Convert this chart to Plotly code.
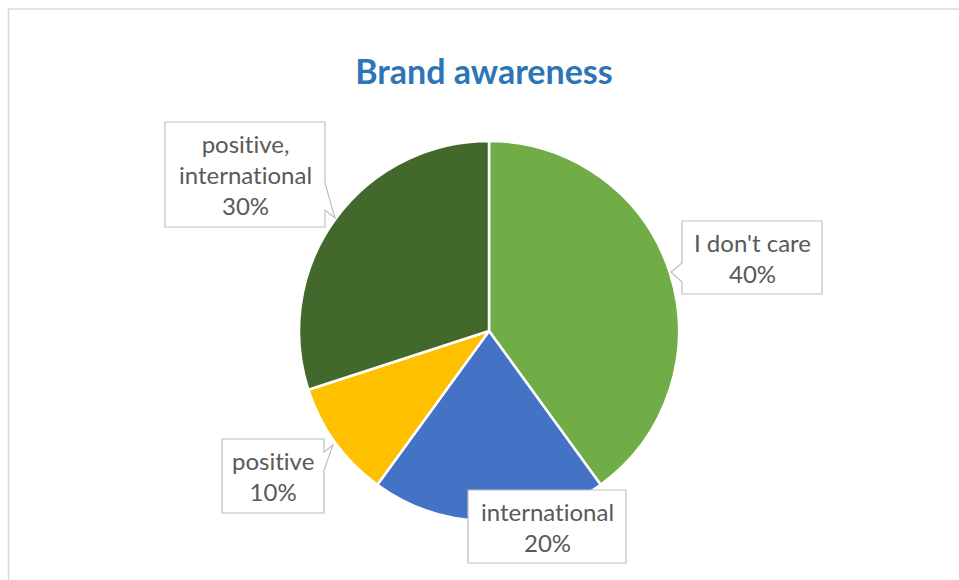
import plotly.graph_objects as go

# Survey answers and their shares
categories = ["I don't care", "international", "positive", "positive, international"]
shares = [40, 20, 10, 30]
slice_colors = ["#70AD47", "#4472C4", "#FFC000", "#43682B"]

W, H = 959, 580
CX, CY, R = 489, 331, 190


def px(x):
    return x / W


def py(y):
    return 1 - y / H


fig = go.Figure(
    go.Pie(
        labels=categories,
        values=shares,
        sort=False,
        direction="clockwise",
        rotation=0,
        textinfo="none",
        hoverinfo="label+percent",
        marker=dict(colors=slice_colors, line=dict(color="white", width=2.5)),
        domain=dict(x=[px(CX - R), px(CX + R)], y=[py(CY + R), py(CY - R)]),
        showlegend=False,
    )
)

# Callout boxes (pixel rectangles) with optional pointer polygon on one side
callouts = {
    "I don't care": dict(box=(682, 221, 822, 294), ptr=[(682, 263), (671, 272), (682, 282)], side="left"),
    "international": dict(box=(468, 490, 626, 563), ptr=None, side=None),
    "positive": dict(box=(222, 439, 324, 513), ptr=[(324, 452), (333, 445), (324, 470)], side="right"),
    "positive, international": dict(box=(165, 122, 325, 227), ptr=[(325, 183), (335, 218), (325, 210)], side="right"),
}


def box_path(box, ptr, side):
    x0, y0, x1, y1 = box
    pts = [(x0, y0), (x1, y0)]
    if side == "right":
        pts += ptr
    pts += [(x1, y1), (x0, y1)]
    if side == "left":
        pts += ptr[::-1]
    return "M " + " L ".join(f"{px(x):.5f},{py(y):.5f}" for x, y in pts) + " Z"


def no_ligatures(s):
    # keep "ti" as two separate glyphs
    return s.replace("ti", "t\u200ci")


total = sum(shares)
shapes = [
    # chart frame
    dict(type="rect", xref="paper", yref="paper", x0=px(8.5), y0=-0.05, x1=1.05, y1=py(9),
         line=dict(color="#D9D9D9", width=1.5), fillcolor="rgba(0,0,0,0)", layer="below"),
]
annotations = []
for name, value in zip(categories, shares):
    c = callouts[name]
    shapes.append(dict(type="path", xref="paper", yref="paper",
                       path=box_path(c["box"], c["ptr"], c["side"]),
                       fillcolor="white", line=dict(color="#BFBFBF", width=1.2), layer="above"))
    x0, y0, x1, y1 = c["box"]
    text = no_ligatures(name).replace(", ", ",<br>") + f"<br>{value / total * 100:.0f}%"
    annotations.append(dict(x=px((x0 + x1) / 2), y=py((y0 + y1) / 2), xref="paper", yref="paper",
                            text=text, showarrow=False, xanchor="center", yanchor="middle",
                            font=dict(family="Lato, Calibri, sans-serif", size=24, color="#595959")))

fig.update_layout(
    width=W,
    height=H,
    margin=dict(l=0, r=0, t=0, b=0),
    paper_bgcolor="white",
    plot_bgcolor="white",
    title=dict(text="<b>Brand awareness</b>", x=px(484), y=py(72), xanchor="center", yanchor="middle",
               font=dict(family="Lato, Calibri, sans-serif", size=34, color="#2E75B6")),
    shapes=shapes,
    annotations=annotations,
)

fig.write_html("out.html")
